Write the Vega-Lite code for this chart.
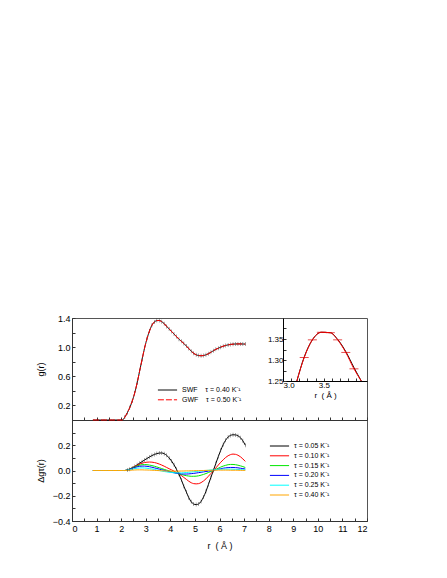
{
  "$schema": "https://vega.github.io/schema/vega-lite/v6.json",
  "padding": {"left": 36, "top": 314, "right": 5, "bottom": 5},
  "background": "white",
  "width": 295,
  "height": 203,
  "config": {
    "font": "Liberation Sans",
    "view": {"stroke": "#555", "strokeWidth": 1},
    "axis": {"grid": false, "tickSize": -3, "tickColor": "#333", "domainColor": "#333", "labelFontSize": 9, "labelColor": "#000", "titleFontSize": 9, "titleFontWeight": "normal", "titleColor": "#000", "labelFont": "Liberation Sans", "titleFont": "Liberation Sans", "labelPadding": 5},
    "legend": {"labelFontSize": 7, "labelFont": "Liberation Sans", "labelColor": "#000", "symbolType": "M-4,0H4", "symbolStrokeWidth": 1, "symbolSize": 23, "labelOffset": 11, "labelLimit": 0, "title": null, "rowPadding": 1.8}
  },
  "resolve": {
    "scale": {"x": "independent", "y": "independent", "color": "independent", "strokeDash": "independent"},
    "axis": {"x": "independent", "y": "independent"}
  },
  "datasets": {
    "g": [
      {"r":0.85,"swf":0,"gwf":0},{"r":0.95,"swf":0,"gwf":0},{"r":1.05,"swf":0,"gwf":0},{"r":1.15,"swf":0,"gwf":0},{"r":1.25,"swf":0,"gwf":0},{"r":1.35,"swf":0,"gwf":0},{"r":1.45,"swf":0,"gwf":0},{"r":1.55,"swf":0,"gwf":0},{"r":1.65,"swf":0,"gwf":0},{"r":1.75,"swf":0,"gwf":0},{"r":1.85,"swf":0,"gwf":0},{"r":1.95,"swf":0,"gwf":0},{"r":2.05,"swf":0,"gwf":0},
      {"r":2.15,"swf":0.04,"gwf":0.04},{"r":2.25,"swf":0.1,"gwf":0.1},{"r":2.35,"swf":0.17,"gwf":0.17},{"r":2.45,"swf":0.26,"gwf":0.26},{"r":2.55,"swf":0.37,"gwf":0.37},{"r":2.65,"swf":0.51,"gwf":0.51},{"r":2.75,"swf":0.67,"gwf":0.67},{"r":2.85,"swf":0.83,"gwf":0.83},{"r":2.95,"swf":0.985,"gwf":0.985},{"r":3.05,"swf":1.115,"gwf":1.115},{"r":3.15,"swf":1.22,"gwf":1.22},{"r":3.25,"swf":1.3,"gwf":1.3},{"r":3.35,"swf":1.345,"gwf":1.345},{"r":3.45,"swf":1.364,"gwf":1.364},{"r":3.55,"swf":1.366,"gwf":1.366},{"r":3.65,"swf":1.35,"gwf":1.35},{"r":3.75,"swf":1.322,"gwf":1.322},{"r":3.85,"swf":1.285,"gwf":1.285},{"r":3.95,"swf":1.25,"gwf":1.25},
      {"r":4.05,"swf":1.215,"gwf":1.215},{"r":4.15,"swf":1.18,"gwf":1.18},{"r":4.25,"swf":1.145,"gwf":1.145},{"r":4.35,"swf":1.11,"gwf":1.11},{"r":4.45,"swf":1.08,"gwf":1.08},{"r":4.55,"swf":1.05,"gwf":1.05},{"r":4.65,"swf":1.015,"gwf":1.015},{"r":4.75,"swf":0.98,"gwf":0.98},{"r":4.85,"swf":0.945,"gwf":0.945},{"r":4.95,"swf":0.915,"gwf":0.915},{"r":5.05,"swf":0.895,"gwf":0.895},{"r":5.15,"swf":0.885,"gwf":0.885},{"r":5.25,"swf":0.882,"gwf":0.882},{"r":5.35,"swf":0.885,"gwf":0.885},{"r":5.45,"swf":0.895,"gwf":0.895},{"r":5.55,"swf":0.91,"gwf":0.91},{"r":5.65,"swf":0.93,"gwf":0.93},{"r":5.75,"swf":0.95,"gwf":0.95},{"r":5.85,"swf":0.97,"gwf":0.97},{"r":5.95,"swf":0.985,"gwf":0.985},
      {"r":6.05,"swf":1.0,"gwf":1.0},{"r":6.15,"swf":1.013,"gwf":1.013},{"r":6.25,"swf":1.023,"gwf":1.023},{"r":6.35,"swf":1.031,"gwf":1.031},{"r":6.45,"swf":1.037,"gwf":1.037},{"r":6.55,"swf":1.041,"gwf":1.041},{"r":6.65,"swf":1.043,"gwf":1.043},{"r":6.75,"swf":1.044,"gwf":1.044},{"r":6.85,"swf":1.044,"gwf":1.044},{"r":6.95,"swf":1.043,"gwf":1.043},{"r":7.05,"swf":1.042,"gwf":1.042}
    ],
    "ins": [
      {"r":3.17,"swf":1.25,"gwf":1.25},{"r":3.26,"swf":1.307,"gwf":1.306},{"r":3.36,"swf":1.348,"gwf":1.348},{"r":3.47,"swf":1.366,"gwf":1.366},{"r":3.58,"swf":1.365,"gwf":1.365},{"r":3.67,"swf":1.349,"gwf":1.348},{"r":3.77,"swf":1.32,"gwf":1.318},{"r":3.87,"swf":1.282,"gwf":1.279},{"r":3.96,"swf":1.25,"gwf":1.25}
    ],
    "dg": [
      {"r":0.85,"t05":0,"t10":0,"t15":0,"t20":0,"t25":0,"t40":0},{"r":0.95,"t05":0,"t10":0,"t15":0,"t20":0,"t25":0,"t40":0},{"r":1.05,"t05":0,"t10":0,"t15":0,"t20":0,"t25":0,"t40":0},{"r":1.15,"t05":0,"t10":0,"t15":0,"t20":0,"t25":0,"t40":0},{"r":1.25,"t05":0,"t10":0,"t15":0,"t20":0,"t25":0,"t40":0},{"r":1.35,"t05":0,"t10":0,"t15":0,"t20":0,"t25":0,"t40":0},{"r":1.45,"t05":0,"t10":0,"t15":0,"t20":0,"t25":0,"t40":0},{"r":1.55,"t05":0,"t10":0,"t15":0,"t20":0,"t25":0,"t40":0},{"r":1.65,"t05":0,"t10":0,"t15":0,"t20":0,"t25":0,"t40":0},{"r":1.75,"t05":0,"t10":0,"t15":0,"t20":0,"t25":0,"t40":0},{"r":1.85,"t05":0,"t10":0,"t15":0,"t20":0,"t25":0,"t40":0},{"r":1.95,"t05":0,"t10":0,"t15":0,"t20":0,"t25":0,"t40":0},{"r":2.05,"t05":0,"t10":0,"t15":0,"t20":0,"t25":0,"t40":0},{"r":2.15,"t05":0,"t10":0,"t15":0,"t20":0,"t25":0,"t40":0},
      {"r":2.25,"t05":0.003,"t10":0.005,"t15":0.005,"t20":0.004,"t25":0.003,"t40":0.001},
      {"r":2.35,"t05":0.01,"t10":0.013,"t15":0.012,"t20":0.01,"t25":0.007,"t40":0.002},
      {"r":2.45,"t05":0.02,"t10":0.022,"t15":0.02,"t20":0.017,"t25":0.011,"t40":0.003},
      {"r":2.55,"t05":0.032,"t10":0.032,"t15":0.028,"t20":0.024,"t25":0.015,"t40":0.004},
      {"r":2.65,"t05":0.045,"t10":0.042,"t15":0.036,"t20":0.029,"t25":0.018,"t40":0.005},
      {"r":2.75,"t05":0.058,"t10":0.051,"t15":0.042,"t20":0.033,"t25":0.02,"t40":0.005},
      {"r":2.85,"t05":0.07,"t10":0.058,"t15":0.046,"t20":0.035,"t25":0.021,"t40":0.005},
      {"r":2.95,"t05":0.083,"t10":0.063,"t15":0.047,"t20":0.035,"t25":0.02,"t40":0.004},
      {"r":3.05,"t05":0.095,"t10":0.066,"t15":0.046,"t20":0.033,"t25":0.018,"t40":0.004},
      {"r":3.15,"t05":0.107,"t10":0.067,"t15":0.043,"t20":0.03,"t25":0.015,"t40":0.003},
      {"r":3.25,"t05":0.118,"t10":0.066,"t15":0.039,"t20":0.026,"t25":0.012,"t40":0.002},
      {"r":3.35,"t05":0.127,"t10":0.063,"t15":0.034,"t20":0.021,"t25":0.008,"t40":0.001},
      {"r":3.45,"t05":0.134,"t10":0.058,"t15":0.028,"t20":0.016,"t25":0.004,"t40":0.0},
      {"r":3.55,"t05":0.138,"t10":0.051,"t15":0.022,"t20":0.011,"t25":0.0,"t40":-0.001},
      {"r":3.65,"t05":0.139,"t10":0.043,"t15":0.015,"t20":0.006,"t25":-0.004,"t40":-0.002},
      {"r":3.75,"t05":0.133,"t10":0.034,"t15":0.009,"t20":0.001,"t25":-0.008,"t40":-0.003},
      {"r":3.85,"t05":0.12,"t10":0.024,"t15":0.003,"t20":-0.004,"t25":-0.011,"t40":-0.004},
      {"r":3.95,"t05":0.1,"t10":0.014,"t15":-0.003,"t20":-0.009,"t25":-0.014,"t40":-0.004},
      {"r":4.05,"t05":0.075,"t10":0.005,"t15":-0.009,"t20":-0.014,"t25":-0.016,"t40":-0.005},
      {"r":4.15,"t05":0.045,"t10":-0.005,"t15":-0.015,"t20":-0.018,"t25":-0.018,"t40":-0.005},
      {"r":4.25,"t05":0.01,"t10":-0.016,"t15":-0.021,"t20":-0.022,"t25":-0.019,"t40":-0.005},
      {"r":4.35,"t05":-0.03,"t10":-0.028,"t15":-0.027,"t20":-0.025,"t25":-0.019,"t40":-0.005},
      {"r":4.45,"t05":-0.075,"t10":-0.04,"t15":-0.032,"t20":-0.027,"t25":-0.019,"t40":-0.004},
      {"r":4.55,"t05":-0.125,"t10":-0.055,"t15":-0.037,"t20":-0.028,"t25":-0.018,"t40":-0.004},
      {"r":4.65,"t05":-0.17,"t10":-0.07,"t15":-0.041,"t20":-0.028,"t25":-0.016,"t40":-0.003},
      {"r":4.75,"t05":-0.215,"t10":-0.085,"t15":-0.044,"t20":-0.027,"t25":-0.014,"t40":-0.003},
      {"r":4.85,"t05":-0.248,"t10":-0.097,"t15":-0.046,"t20":-0.025,"t25":-0.012,"t40":-0.002},
      {"r":4.95,"t05":-0.266,"t10":-0.104,"t15":-0.046,"t20":-0.023,"t25":-0.01,"t40":-0.002},
      {"r":5.05,"t05":-0.27,"t10":-0.106,"t15":-0.045,"t20":-0.02,"t25":-0.008,"t40":-0.001},
      {"r":5.15,"t05":-0.265,"t10":-0.104,"t15":-0.042,"t20":-0.017,"t25":-0.006,"t40":-0.001},
      {"r":5.25,"t05":-0.245,"t10":-0.096,"t15":-0.037,"t20":-0.014,"t25":-0.004,"t40":0.0},
      {"r":5.35,"t05":-0.21,"t10":-0.083,"t15":-0.031,"t20":-0.011,"t25":-0.002,"t40":0.0},
      {"r":5.45,"t05":-0.165,"t10":-0.066,"t15":-0.024,"t20":-0.008,"t25":0.0,"t40":0.001},
      {"r":5.55,"t05":-0.11,"t10":-0.045,"t15":-0.016,"t20":-0.005,"t25":0.002,"t40":0.001},
      {"r":5.65,"t05":-0.055,"t10":-0.024,"t15":-0.008,"t20":-0.002,"t25":0.004,"t40":0.002},
      {"r":5.75,"t05":0.0,"t10":-0.003,"t15":0.0,"t20":0.002,"t25":0.006,"t40":0.002},
      {"r":5.85,"t05":0.055,"t10":0.02,"t15":0.009,"t20":0.006,"t25":0.008,"t40":0.002},
      {"r":5.95,"t05":0.11,"t10":0.043,"t15":0.018,"t20":0.01,"t25":0.009,"t40":0.003},
      {"r":6.05,"t05":0.16,"t10":0.065,"t15":0.027,"t20":0.014,"t25":0.01,"t40":0.003},
      {"r":6.15,"t05":0.205,"t10":0.085,"t15":0.035,"t20":0.018,"t25":0.011,"t40":0.003},
      {"r":6.25,"t05":0.24,"t10":0.103,"t15":0.041,"t20":0.021,"t25":0.011,"t40":0.003},
      {"r":6.35,"t05":0.265,"t10":0.117,"t15":0.046,"t20":0.023,"t25":0.011,"t40":0.003},
      {"r":6.45,"t05":0.278,"t10":0.126,"t15":0.048,"t20":0.024,"t25":0.011,"t40":0.002},
      {"r":6.55,"t05":0.283,"t10":0.13,"t15":0.048,"t20":0.024,"t25":0.01,"t40":0.002},
      {"r":6.65,"t05":0.282,"t10":0.128,"t15":0.046,"t20":0.023,"t25":0.009,"t40":0.002},
      {"r":6.75,"t05":0.275,"t10":0.121,"t15":0.042,"t20":0.021,"t25":0.008,"t40":0.002},
      {"r":6.85,"t05":0.26,"t10":0.109,"t15":0.037,"t20":0.018,"t25":0.007,"t40":0.001},
      {"r":6.95,"t05":0.235,"t10":0.092,"t15":0.031,"t20":0.015,"t25":0.006,"t40":0.001},
      {"r":7.05,"t05":0.2,"t10":0.072,"t15":0.024,"t20":0.012,"t25":0.005,"t40":0.001}
    ]
  },
  "layer": [
    {
      "encoding": {
        "x": {"field": "r", "type": "quantitative", "scale": {"domain": [0, 12], "nice": false, "zero": false},
              "axis": {"orient": "bottom", "offset": -101, "values": [0,0.5,1,1.5,2,2.5,3,3.5,4,4.5,5,5.5,6,6.5,7,7.5,8,8.5,9,9.5,10,10.5,11,11.5,12], "labels": false, "title": null}},
        "y": {"field": "v", "type": "quantitative", "scale": {"domain": [0, 1.4], "range": [102, 0], "nice": false, "zero": false},
              "axis": {"orient": "left", "values": [0,0.2,0.4,0.6,0.8,1,1.2,1.4], "format": ".1f", "labelExpr": "indexof([0.2,0.6,1,1.4], datum.value) >= 0 ? datum.label : ''", "title": "g(r)", "titleX": -27, "titleBaseline": "bottom"}}
      },
      "layer": [
        {
          "data": {"name": "g"},
          "transform": [{"fold": ["swf", "gwf"], "as": ["s", "v"]}, {"filter": "datum.s == 'swf'"}],
          "mark": {"type": "line", "interpolate": "monotone", "strokeWidth": 1},
          "encoding": {
            "color": {"field": "s", "type": "nominal", "scale": {"domain": ["swf", "gwf"], "range": ["#000000", "#ff0000"]},
                      "legend": {"orient": "none", "legendX": 92, "legendY": 68.5, "labelExpr": "datum.label == 'swf' ? 'SWF\u00a0\u00a0\u00a0\u00a0τ = 0.40 K⁻¹' : 'GWF\u00a0\u00a0\u00a0\u00a0τ = 0.50 K⁻¹'"}},
            "strokeDash": {"field": "s", "type": "nominal", "scale": {"domain": ["swf", "gwf"], "range": [[1, 0], [6, 2]]},
                      "legend": {"orient": "none", "legendX": 92, "legendY": 68.5, "labelExpr": "datum.label == 'swf' ? 'SWF\u00a0\u00a0\u00a0\u00a0τ = 0.40 K⁻¹' : 'GWF\u00a0\u00a0\u00a0\u00a0τ = 0.50 K⁻¹'"}}
          }
        },
        {
          "data": {"name": "g"},
          "transform": [{"fold": ["swf"], "as": ["s", "v"]}, {"filter": "datum.v > 0"}],
          "mark": {"type": "tick", "orient": "vertical", "size": 4, "thickness": 0.6, "color": "#333"}
        },
        {
          "data": {"name": "g"},
          "transform": [{"fold": ["swf", "gwf"], "as": ["s", "v"]}, {"filter": "datum.s == 'gwf'"}],
          "mark": {"type": "line", "interpolate": "monotone", "strokeWidth": 1},
          "encoding": {
            "color": {"field": "s", "type": "nominal"},
            "strokeDash": {"field": "s", "type": "nominal"}
          }
        },
        {
          "data": {"values": [{}]},
          "mark": {"type": "text", "text": "a)", "fontWeight": "bold", "fontSize": 9, "align": "left", "baseline": "alphabetic"},
          "encoding": {"x": {"datum": 0.72}, "y": {"datum": 0.78}}
        }
      ]
    },
    {
      "encoding": {
        "x": {"field": "r", "type": "quantitative", "scale": {"domain": [0, 12], "nice": false, "zero": false},
              "axis": {"orient": "bottom", "values": [0,0.5,1,1.5,2,2.5,3,3.5,4,4.5,5,5.5,6,6.5,7,7.5,8,8.5,9,9.5,10,10.5,11,11.5,12], "format": ".0f", "labelExpr": "datum.value % 1 == 0 ? datum.label : ''", "labelPadding": 6, "title": "r\u00a0\u00a0(\u00a0Å\u00a0)", "titlePadding": 8}},
        "y": {"field": "v", "type": "quantitative", "scale": {"domain": [-0.4, 0.4], "range": [203, 102], "nice": false, "zero": false},
              "axis": {"orient": "left", "values": [-0.4,-0.3,-0.2,-0.1,0,0.1,0.2,0.3], "format": ".1f", "labelExpr": "indexof([-0.4,-0.2,0,0.2], datum.value) >= 0 ? datum.label : ''", "title": "Δgτ(r)", "titleX": -27, "titleBaseline": "bottom"}}
      },
      "layer": [
        {
          "data": {"name": "dg"},
          "transform": [{"fold": ["t05", "t10", "t15", "t20", "t25", "t40"], "as": ["s", "v"]}],
          "mark": {"type": "line", "interpolate": "monotone", "strokeWidth": 1},
          "encoding": {
            "color": {"field": "s", "type": "nominal",
                      "scale": {"domain": ["t05", "t10", "t15", "t20", "t25", "t40"], "range": ["#000000", "#ff0000", "#00e600", "#0000ff", "#00ffff", "#ffa500"]},
                      "legend": {"orient": "none", "legendX": 204, "legendY": 124.5, "labelExpr": "'τ = 0.' + substring(datum.label, 1) + ' K⁻¹'"}}
          }
        },
        {
          "data": {"name": "dg"},
          "transform": [{"fold": ["t05"], "as": ["s", "v"]}, {"filter": "datum.r > 2.2"}],
          "mark": {"type": "tick", "orient": "vertical", "size": 4, "thickness": 0.6, "color": "#333"}
        },
        {
          "data": {"values": [{}]},
          "mark": {"type": "text", "text": "b)", "fontWeight": "bold", "fontSize": 9, "align": "left", "baseline": "alphabetic"},
          "encoding": {"x": {"datum": 0.76}, "y": {"datum": 0.053}}
        }
      ]
    },
    {
      "data": {"name": "ins"},
      "encoding": {
        "x": {"field": "r", "type": "quantitative", "scale": {"domain": [3.0, 4.03], "range": [211, 295], "nice": false, "zero": false},
              "axis": {"orient": "bottom", "offset": -140, "values": [3,3.1,3.2,3.3,3.4,3.5,3.6,3.7,3.8,3.9], "format": ".1f", "labelExpr": "indexof([3,3.5], datum.value) >= 0 ? datum.label : ''", "labelFontSize": 8, "titleFontSize": 8, "labelPadding": 3, "titlePadding": 2, "title": "r\u00a0\u00a0(\u00a0Å\u00a0)", "domainColor": "#000"}},
        "y": {"field": "v", "type": "quantitative", "scale": {"domain": [1.25, 1.4], "range": [63, 0], "nice": false, "zero": false},
              "axis": {"orient": "left", "offset": -211, "values": [1.25,1.275,1.3,1.325,1.35,1.375], "format": ".2f", "labelExpr": "indexof([1.25,1.3,1.35], datum.value) >= 0 ? datum.label : ''", "labelFontSize": 8, "labelPadding": 3, "title": null, "domainColor": "#000"}}
      },
      "layer": [
        {"transform": [{"fold": ["swf"], "as": ["s", "v"]}], "mark": {"type": "line", "interpolate": "monotone", "color": "#000", "strokeWidth": 1}},
        {"transform": [{"fold": ["gwf"], "as": ["s", "v"]}], "mark": {"type": "line", "interpolate": "monotone", "color": "#ff0000", "strokeWidth": 1}},
        {"transform": [{"fold": ["gwf"], "as": ["s", "v"]}, {"filter": "datum.r > 3.2 && datum.r < 3.9"}], "mark": {"type": "tick", "orient": "horizontal", "size": 9, "thickness": 1, "color": "#dd0000"}}
      ]
    }
  ]
}
